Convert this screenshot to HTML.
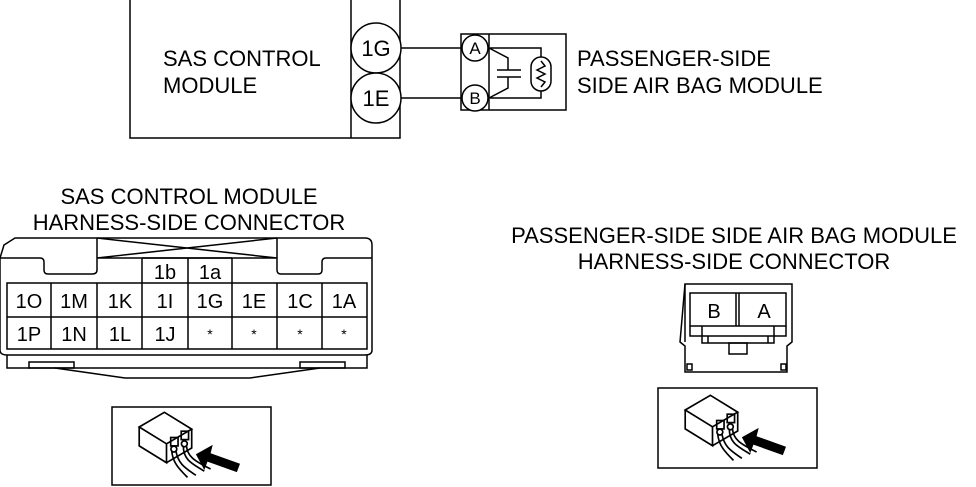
<!DOCTYPE html>
<html><head><style>
body{margin:0;background:#fff;}
svg{display:block;}
text{font-family:"Liberation Sans",sans-serif;fill:#000;}
</style></head><body>
<svg width="976" height="487" viewBox="0 0 976 487" xmlns="http://www.w3.org/2000/svg">
<defs>
<g id="ic" fill="none" stroke="#000" stroke-width="1.6">
  <path d="M4,20 L28,6 L54,22 L30,36 Z" fill="#fff"/>
  <path d="M4,20 L4,38 L30,54 L30,36"/>
  <path d="M30,54 L54,40 L54,22"/>
  <rect x="34" y="30" width="7" height="8"/><rect x="44" y="24" width="7" height="8"/>
  <circle cx="37" cy="41" r="2.8"/><circle cx="47" cy="36" r="2.8"/>
  <path d="M35,43 C36,54 42,60 50,68 M39,43 C41,54 46,58 58,66 M46,38 C46,50 52,54 66,62 M49,38 C50,48 56,52 72,60"/>
  <path d="M58,46 L74,37 L72,45 L100,55 L97,63 L69,53 L66,61 Z" fill="#000" stroke="none"/>
</g>
</defs>
<g fill="none" stroke="#000" stroke-width="1.5">
  <path d="M130,0 V138 H400 V0"/>
  <path d="M351,0 V138"/>
  <circle cx="376" cy="48" r="25" fill="#fff"/>
  <circle cx="376" cy="98" r="25" fill="#fff"/>
  <path d="M401,48 H463 M401,98 H463"/>
  <rect x="461" y="34" width="105" height="76"/>
  <path d="M489,34 V110"/>
  <circle cx="475" cy="48" r="13" fill="#fff"/>
  <circle cx="475" cy="98" r="13" fill="#fff"/>
  <path d="M489,48 L508,58 V70 M489,98 L508,88 V77 M497,70 H521 M497,77 H521 M490,48 H541 V60 M490,98 H541 V88"/>
  <rect x="531" y="57" width="20" height="34" rx="10" fill="#fff"/>
  <path d="M541,61 L545,66 L537,70 L545,74 L537,78 L545,82 L541,87"/>
  <path d="M4,245 L15,238 H365 Q372,238 372,245 V350 Q372,355 365,355 H7 Q0,355 0,350 V258 Z"/>
  <path d="M0,258 H40 Q44,258 44,262 V270 Q44,274 48,274 H92 Q97,274 97,270 V238"/>
  <path d="M277,238 V270 Q277,274 281,274 H318 Q322,274 322,270 V262 Q322,258 326,258 H372"/>
  <path d="M97,258 H277 M97,238 L277,258 M277,238 L97,258"/>
  <rect x="7" y="283" width="360" height="66"/>
  <path d="M7,317 H367 M51,283 V349 M97,283 V349 M142,258 V349 M188,258 V349 M232,258 V349 M277,283 V349 M322,283 V349 M142,258 H232"/>
  <path d="M7,355 V368 H367 V355"/>
  <rect x="29" y="362" width="45" height="6"/><rect x="300" y="362" width="45" height="6"/>
  <path d="M55,368 L125,378 H250 L320,368"/>
  <path d="M685,284 H792 V342 L787,346 V372 H685 V346 L680,342 Z"/>
  <path d="M685,284 V342"/>
  <rect x="690" y="293" width="96" height="33"/>
  <path d="M736,293 V326 M739,293 V326"/>
  <path d="M690,326 V336 H786 V326 M702,326 V343 H774 V326 M708,336 V343 M768,336 V343"/>
  <rect x="729" y="343" width="18" height="11"/>
  <rect x="687" y="364" width="5" height="6"/><rect x="781" y="364" width="5" height="6"/>
  <rect x="112" y="407" width="159" height="78"/>
  <rect x="658" y="388" width="159" height="80"/>
</g>
<use href="#ic" transform="translate(135,406) scale(1.05)"/>
<use href="#ic" transform="translate(681,389) scale(1.05)"/>
<g font-size="22">
  <text x="163" y="66">SAS CONTROL</text>
  <text x="163" y="93">MODULE</text>
  <text x="577" y="66">PASSENGER-SIDE</text>
  <text x="577" y="93">SIDE AIR BAG MODULE</text>
  <text x="376" y="56" text-anchor="middle">1G</text>
  <text x="376" y="106" text-anchor="middle">1E</text>
</g>
<g font-size="17" text-anchor="middle">
  <text x="475" y="54">A</text><text x="475" y="104">B</text>
</g>
<g font-size="22" text-anchor="middle">
  <text x="189" y="204">SAS CONTROL MODULE</text>
  <text x="189" y="230">HARNESS-SIDE CONNECTOR</text>
  <text x="734" y="243">PASSENGER-SIDE SIDE AIR BAG MODULE</text>
  <text x="734" y="269">HARNESS-SIDE CONNECTOR</text>
</g>
<g font-size="20" text-anchor="middle">
  <text x="165" y="279">1b</text><text x="210" y="279">1a</text>
  <text x="29" y="308">1O</text><text x="74" y="308">1M</text><text x="120" y="308">1K</text><text x="165" y="308">1I</text>
  <text x="210" y="308">1G</text><text x="254" y="308">1E</text><text x="300" y="308">1C</text><text x="344" y="308">1A</text>
  <text x="29" y="341">1P</text><text x="74" y="341">1N</text><text x="120" y="341">1L</text><text x="165" y="341">1J</text>
  <text x="210" y="339" font-size="14">*</text><text x="254" y="339" font-size="14">*</text><text x="300" y="339" font-size="14">*</text><text x="344" y="339" font-size="14">*</text>
  <text x="714" y="318">B</text><text x="764" y="318">A</text>
</g>
</svg>
</body></html>
